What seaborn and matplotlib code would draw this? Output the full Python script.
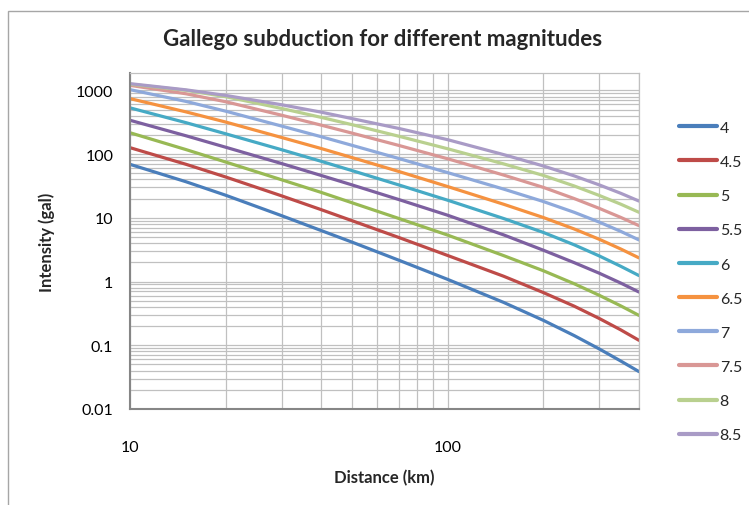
import numpy as np
import pandas as pd
import seaborn as sns
import matplotlib
matplotlib.use("Agg")
import matplotlib.pyplot as plt
from matplotlib.ticker import LogLocator, NullFormatter, FixedLocator, FixedFormatter
from matplotlib.patches import Rectangle

# Distances (km) at which the attenuation curves are tabulated
distance_km = [10, 15, 20, 30, 40, 50, 70, 100, 150, 200, 250, 300, 350, 400]

# Peak intensity (gal) per magnitude
m4_0 = [69, 36.8, 22.6, 10.8, 6.3, 4.15, 2.17, 1.08, 0.47, 0.246, 0.142, 0.0875, 0.0568, 0.0386]
m4_5 = [126, 69.1, 43.7, 22.1, 13.4, 9.0, 4.93, 2.56, 1.21, 0.671, 0.411, 0.263, 0.175, 0.1195]
m5_0 = [216, 117.6, 75, 39.5, 25, 17.2, 9.8, 5.35, 2.55, 1.476, 0.924, 0.6075, 0.4166, 0.294]
m5_5 = [339, 193.7, 128, 71, 46.1, 32.8, 19.4, 10.96, 5.39, 3.10, 1.98, 1.35, 0.949, 0.684]
m6_0 = [531, 311, 208, 117, 76.9, 55.0, 32.9, 18.86, 9.74, 5.89, 3.77, 2.52, 1.74, 1.24]
m6_5 = [741, 459, 318, 182, 122, 88, 53.5, 30.9, 16.3, 10.1, 6.68, 4.6, 3.25, 2.35]
m7_0 = [1025, 670, 471, 275, 187, 137, 85.5, 51.1, 28.2, 18.0, 12.2, 8.55, 6.14, 4.49]
m7_5 = [1197, 883, 662, 407, 284, 213, 137, 84.3, 46.8, 30.0, 20.05, 14.05, 10.17, 7.53]
m8_0 = [1250, 1000, 795, 519, 376, 289, 191, 121, 70.1, 46.2, 31.6, 22.4, 16.4, 12.2]
m8_5 = [1273, 1018, 832, 594, 454, 360, 253, 168, 98, 65, 45.5, 32.8, 24.3, 18.3]

magnitudes = ["4", "4.5", "5", "5.5", "6", "6.5", "7", "7.5", "8", "8.5"]
series = [m4_0, m4_5, m5_0, m5_5, m6_0, m6_5, m7_0, m7_5, m8_0, m8_5]

y_ticks = [0.01, 0.1, 1, 10, 100, 1000]
y_tick_labels = ["0.01", "0.1", "1", "10", "100", "1000"]
x_ticks = [10, 100]
x_tick_labels = ["10", "100"]

colors = ["#4A7EBB", "#BE4B48", "#98B954", "#7D60A0", "#46AAC5",
          "#F59240", "#8EA9DB", "#D99795", "#B9D08F", "#A99BC6"]

df = pd.DataFrame({
    "Distance": np.tile(distance_km, len(magnitudes)),
    "Intensity": np.concatenate(series),
    "Magnitude": np.repeat(magnitudes, len(distance_km)),
})

sns.set_style("white")
plt.rcParams["font.family"] = ["Lato", "DejaVu Sans"]

W, H = 749, 506
fig = plt.figure(figsize=(W / 100, H / 100), dpi=100)
ax = fig.add_axes([130 / W, 1 - 410 / H, (639 - 130) / W, (410 - 74) / H])

grid_c = "#C0C0C0"
ax.set_xscale("log")
ax.set_yscale("log")
ax.set_xlim(10, 400)
ax.set_ylim(0.01, 1870)

# gridlines (major + minor, same light grey)
ax.xaxis.set_minor_locator(LogLocator(base=10, subs=np.arange(2, 10)))
ax.yaxis.set_minor_locator(LogLocator(base=10, subs=np.arange(2, 10)))
ax.grid(True, which="both", color=grid_c, linewidth=0.9)
ax.set_axisbelow(True)

sns.lineplot(data=df, x="Distance", y="Intensity", hue="Magnitude",
             palette=colors, linewidth=2.3, ax=ax, legend=True,
             estimator=None, sort=False)
for line in ax.get_lines():
    line.set_solid_joinstyle("round")
    line.set_solid_capstyle("round")

ax.xaxis.set_major_locator(FixedLocator(x_ticks))
ax.xaxis.set_major_formatter(FixedFormatter(x_tick_labels))
ax.xaxis.set_minor_formatter(NullFormatter())
ax.yaxis.set_major_locator(FixedLocator(y_ticks))
ax.yaxis.set_major_formatter(FixedFormatter(y_tick_labels))
ax.yaxis.set_minor_formatter(NullFormatter())

ax.tick_params(axis="both", which="major", direction="out", length=4,
               width=1, color="#868686", labelsize=11.5, labelcolor="#000000")
ax.tick_params(axis="y", which="major", pad=8)
ax.tick_params(axis="x", which="major", pad=18)
ax.tick_params(axis="both", which="minor", length=0)

for side in ("left", "bottom"):
    ax.spines[side].set_color("#868686")
    ax.spines[side].set_linewidth(1.5)
for side in ("top", "right"):
    ax.spines[side].set_color(grid_c)
    ax.spines[side].set_linewidth(0.9)

ax.set_xlabel("Distance (km)", fontsize=12, fontweight="bold", labelpad=11)
ax.set_ylabel("Intensity (gal)", fontsize=12, fontweight="bold", labelpad=15)

fig.text(383 / W, 1 - 40 / H, "Gallego subduction for different magnitudes",
         ha="center", va="center", fontsize=16, fontweight="bold")

handles, labels = ax.get_legend_handles_labels()
for h in handles:
    h.set_linewidth(3)
ax.legend(handles, labels, loc="center left",
          bbox_to_anchor=(679 / W, 1 - 282.5 / H), bbox_transform=fig.transFigure,
          frameon=False, fontsize=11.5, handlelength=2.4, handletextpad=0.15,
          labelspacing=1.25, borderpad=0, borderaxespad=0)

# outer chart frame
fig.patches.append(Rectangle((8 / W, -0.05), 1.2, 1 - 12 / H + 0.05,
                             transform=fig.transFigure, fill=False,
                             edgecolor="#A6A6A6", linewidth=1))

fig.savefig("out.png", dpi=100)
